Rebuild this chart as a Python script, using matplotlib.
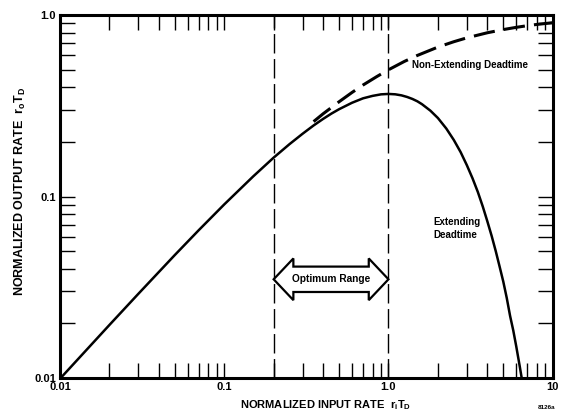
import matplotlib
matplotlib.use("Agg")
import matplotlib.pyplot as plt
from matplotlib.patches import Polygon
from matplotlib.ticker import FixedLocator, LogLocator, NullFormatter
import numpy as np

# normalized input rate r_i*T_D and output rate r_o*T_D
ext_x = [0.01, 0.02, 0.03, 0.05, 0.07, 0.1, 0.15, 0.2, 0.25, 0.3, 0.35, 0.4, 0.45,
         0.5, 0.6, 0.7, 0.8, 0.9, 1.0, 1.1, 1.2, 1.3, 1.4, 1.5, 1.6, 1.8, 2.0,
         2.25, 2.5, 2.75, 3.0, 3.25, 3.5, 3.75, 4.0, 4.25, 4.5, 4.75, 5.0, 5.25,
         5.5, 5.75, 6.0, 6.3, 6.6]
ext_y = [0.0099, 0.0196, 0.0291, 0.0476, 0.0653, 0.0905, 0.1291, 0.164, 0.1947,
         0.222, 0.2466, 0.268, 0.2869, 0.303, 0.329, 0.348, 0.359, 0.366, 0.368,
         0.3662, 0.3614, 0.354, 0.3452, 0.335, 0.323, 0.2975, 0.271, 0.2371,
         0.205, 0.1758, 0.149, 0.126, 0.106, 0.0882, 0.073, 0.0606, 0.050,
         0.0411, 0.034, 0.0276, 0.022, 0.0183, 0.0149, 0.01157, 0.0090]

nonext_x = [0.35, 0.4, 0.5, 0.6, 0.7, 0.85, 1.0, 1.25, 1.5, 2.0, 2.5, 3.0, 4.0,
            5.0, 6.0, 7.0, 8.0, 10.0]
nonext_y = [0.259, 0.286, 0.333, 0.375, 0.412, 0.459, 0.5, 0.556, 0.6, 0.667,
            0.714, 0.75, 0.8, 0.833, 0.857, 0.875, 0.889, 0.909]

optimum = [0.2, 1.0]
optimum_level = 0.035

x_ticks = [0.01, 0.1, 1.0, 10]
x_labels = ["0.01", "0.1", "1.0", "10"]
y_ticks = [0.01, 0.1, 1.0]
y_labels = ["0.01", "0.1", "1.0"]

plt.rcParams["font.family"] = ["Liberation Sans", "DejaVu Sans"]
plt.rcParams["font.weight"] = "bold"
plt.rcParams["axes.labelweight"] = "bold"
plt.rcParams["mathtext.fontset"] = "custom"
plt.rcParams["mathtext.rm"] = "Liberation Sans:bold"
plt.rcParams["mathtext.it"] = "Liberation Sans:bold"

fig = plt.figure(figsize=(5.71, 4.18), dpi=100)
ax = fig.add_axes([0.105, 0.0957, 0.863, 0.868])
ax.set_xscale("log")
ax.set_yscale("log")
ax.set_xlim(0.01, 10)
ax.set_ylim(0.01, 1.0)

ax.plot(ext_x, ext_y, color="black", lw=1.8, solid_capstyle="butt")
ax.plot(nonext_x, nonext_y, color="black", lw=2.2, dashes=(7, 3))

# optimum range boundaries
for xv in optimum:
    ax.axvline(xv, color="black", lw=1.0, dashes=(14, 4))

# hollow double arrow spanning the optimum range
lo, hi = np.log10(optimum[0]), np.log10(optimum[1])
head = 0.12
ly = np.log10(optimum_level)
shaft, hh = 0.07, 0.115
pts = [(lo, ly), (lo + head, ly + hh), (lo + head, ly + shaft), (hi - head, ly + shaft),
       (hi - head, ly + hh), (hi, ly), (hi - head, ly - hh), (hi - head, ly - shaft),
       (lo + head, ly - shaft), (lo + head, ly - hh)]
pts = [(10 ** px, 10 ** py) for px, py in pts]
ax.add_patch(Polygon(pts, closed=True, fc="white", ec="black", lw=1.6, zorder=3))
ax.text(10 ** ((lo + hi) / 2), optimum_level, "Optimum Range", ha="center",
        va="center", fontsize=7.3, zorder=4)

ax.text(1.4, 0.53, "Non-Extending Deadtime", fontsize=7, va="center",
        bbox=dict(fc="white", ec="none", pad=1))
ax.text(1.88, 0.067, "Extending\nDeadtime", fontsize=7, va="center",
        linespacing=1.4)

ax.xaxis.set_major_locator(FixedLocator(x_ticks))
ax.set_xticklabels(x_labels)
ax.yaxis.set_major_locator(FixedLocator(y_ticks))
ax.set_yticklabels(y_labels)
ax.xaxis.set_minor_locator(LogLocator(base=10, subs=np.arange(2, 10)))
ax.yaxis.set_minor_locator(LogLocator(base=10, subs=np.arange(2, 10)))
ax.xaxis.set_minor_formatter(NullFormatter())
ax.yaxis.set_minor_formatter(NullFormatter())
ax.tick_params(which="both", direction="in", top=True, right=True,
               length=11, width=1.0, labelsize=8, pad=3)

for sp in ax.spines.values():
    sp.set_linewidth(2.2)

ax.set_xlabel(r"NORMALIZED INPUT RATE  $\mathrm{r_iT_D}$", fontsize=8)
ax.set_ylabel(r"NORMALIZED OUTPUT RATE  $\mathrm{r_oT_D}$", fontsize=9)
ax.xaxis.set_label_coords(0.54, -0.055)
ax.yaxis.set_label_coords(-0.065, 0.515)
fig.text(0.972, 0.025, "8126a", fontsize=4.5, ha="right", va="center")

fig.savefig("out.png", dpi=100)
